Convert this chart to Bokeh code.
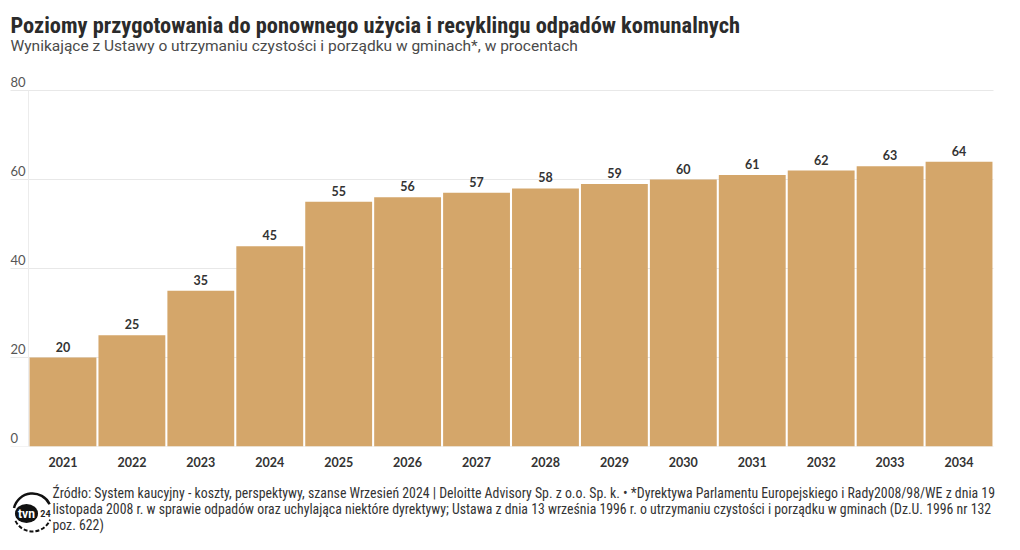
from bokeh.plotting import figure
from bokeh.models import ColumnDataSource, LabelSet, Range1d, FixedTicker
from bokeh.layouts import column
from bokeh.embed import file_html
from bokeh.resources import INLINE
from bokeh.core.properties import value

years = ["2021", "2022", "2023", "2024", "2025", "2026", "2027",
         "2028", "2029", "2030", "2031", "2032", "2033", "2034"]
levels = [20, 25, 35, 45, 55, 56, 57, 58, 59, 60, 61, 62, 63, 64]
y_ticks = [0, 20, 40, 60, 80]

title_text = "Poziomy przygotowania do ponownego użycia i recyklingu odpadów komunalnych"
subtitle_text = "Wynikające z Ustawy o utrzymaniu czystości i porządku w gminach*, w procentach"
footer_lines = [
    "Źródło: System kaucyjny - koszty, perspektywy, szanse Wrzesień 2024 | Deloitte Advisory Sp. z o.o. Sp. k. • *Dyrektywa Parlamentu Europejskiego i Rady2008/98/WE z dnia 19",
    "listopada 2008 r. w sprawie odpadów oraz uchylająca niektóre dyrektywy; Ustawa z dnia 13 września 1996 r. o utrzymaniu czystości i porządku w gminach (Dz.U. 1996 nr 132",
    "poz. 622)",
]

BAR = "#D4A66A"
NUM_FONT = "Lato"
COND = "Roboto Condensed"

# ---- layout geometry (pixels) ----
W = 1004
H_MAIN = 478
H_FOOT = 64
PLOT_L, PLOT_R = 28, 993          # bar area, px
PLOT_TOP, PLOT_BOT = 90, 446      # y=80 and y=0, px
YMAX = 80

n = len(years)
sx = (PLOT_R - PLOT_L) / n
x0 = -0.5 - PLOT_L / sx
x1 = x0 + W / sx
sy = (PLOT_BOT - PLOT_TOP) / YMAX
y1 = (PLOT_BOT - 0) / sy


def px_x(px):
    return x0 + px / sx


def px_y(py):
    return (PLOT_BOT - py) / sy


def add_text(fig, xs, ys, texts, font, size, color, style="normal", align="left",
             baseline="alphabetic", y_offset=0):
    s = ColumnDataSource(dict(x=xs, y=ys, t=texts))
    fig.add_layout(LabelSet(x="x", y="y", text="t", source=s, text_align=align,
                            text_baseline=baseline, y_offset=y_offset,
                            text_font=value(font), text_font_style=style,
                            text_font_size=size, text_color=color))


idx = list(range(n))
src = ColumnDataSource(dict(x=idx, level=levels, lbl=[str(v) for v in levels]))

p = figure(width=W, height=H_MAIN, x_range=Range1d(x0, x1), y_range=Range1d(0, y1),
           output_backend="svg", toolbar_location=None,
           min_border_left=0, min_border_right=0, min_border_top=0,
           min_border_bottom=H_MAIN - PLOT_BOT)
p.outline_line_color = None
p.grid.visible = False
p.yaxis.visible = False

# grid lines
p.segment(x0=[px_x(10)] * len(y_ticks), x1=[n - 0.5] * len(y_ticks), y0=y_ticks, y1=y_ticks,
          line_color="#e8e8e8", line_width=1)
p.segment(x0=[-0.5], x1=[-0.5], y0=[0], y1=[YMAX], line_color="#ececec", line_width=1)

p.vbar(x="x", top="level", bottom=0, width=0.97, source=src,
       fill_color=BAR, line_color=None)

p.add_layout(LabelSet(x="x", y="level", text="lbl", source=src,
                      text_align="center", text_baseline="alphabetic", y_offset=6,
                      text_font=value(NUM_FONT), text_font_style="bold",
                      text_font_size="12.5px", text_color="#333333"))

# y tick labels (above grid lines)
add_text(p, [px_x(10)] * len(y_ticks), y_ticks, [str(t) for t in y_ticks],
         NUM_FONT, "13px", "#555555", y_offset=4)

# title / subtitle
add_text(p, [px_x(10)], [px_y(32)], [title_text], COND, "22.4px", "#2b2b2b", style="bold")
add_text(p, [px_x(10)], [px_y(50)], [subtitle_text], "Roboto", "15.5px", "#4a4a4a")

# x axis with year labels
p.xaxis.ticker = FixedTicker(ticks=idx)
p.xaxis.major_label_overrides = {i: y for i, y in zip(idx, years)}
p.xaxis.axis_line_color = None
p.xaxis.major_tick_line_color = None
p.xaxis.minor_tick_line_color = None
p.xaxis.major_tick_out = 0
p.xaxis.major_tick_in = 0
p.xaxis.major_label_standoff = 10
p.xaxis.major_label_text_font = NUM_FONT
p.xaxis.major_label_text_font_style = "bold"
p.xaxis.major_label_text_font_size = "12.5px"
p.xaxis.major_label_text_color = "#333333"

# ---- footer ----
f = figure(width=W, height=H_FOOT, x_range=Range1d(0, W), y_range=Range1d(H_FOOT, 0),
           output_backend="svg", toolbar_location=None,
           min_border_left=0, min_border_right=0, min_border_top=0, min_border_bottom=0)
f.axis.visible = False
f.grid.visible = False
f.outline_line_color = None

# tvn24 logo (approximation)
f.arc(x=[32], y=[34], radius=19, start_angle=0.45, end_angle=2.9, direction="anticlock",
      line_color="#111111", line_width=2.5)
f.arc(x=[32], y=[34], radius=19, start_angle=3.6, end_angle=5.9, direction="anticlock",
      line_color="#111111", line_width=2, line_dash="4 2")
f.ellipse(x=[26], y=[35], width=23, height=19, fill_color="#111111", line_color=None)
add_text(f, [26], [35], ["tvn"], "Roboto", "12px", "white", style="bold",
         align="center", baseline="middle")
add_text(f, [45], [35], ["24"], "Roboto", "9px", "#222222", style="bold",
         align="center", baseline="middle")

add_text(f, [52] * len(footer_lines), [19 + 16 * i for i in range(len(footer_lines))],
         footer_lines, COND, "13.8px", "#333333")

layout = column(p, f, spacing=0)
open("out.html", "w").write(file_html(layout, INLINE))
